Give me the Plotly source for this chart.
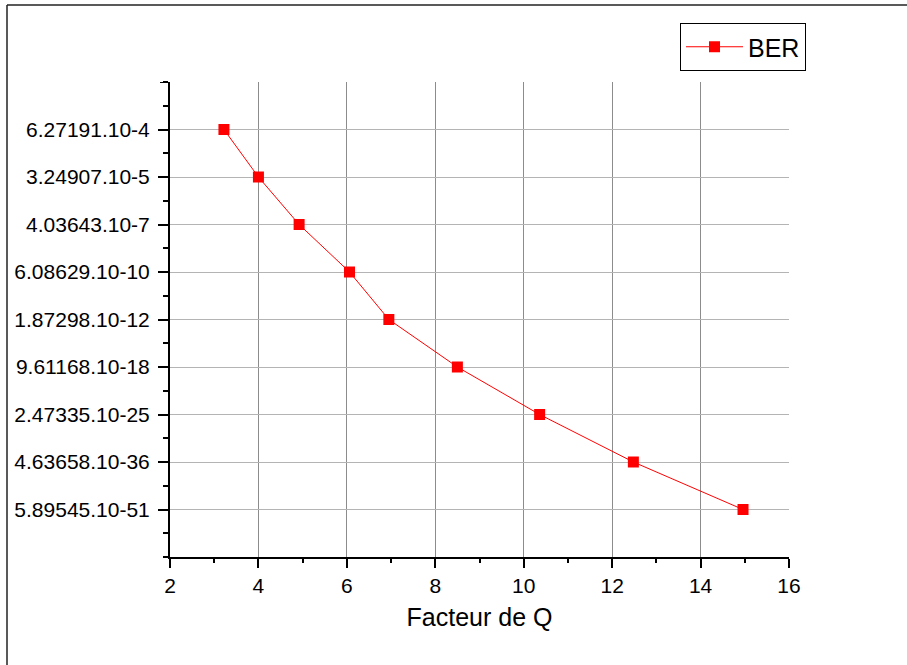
import plotly.graph_objects as go

# Data
q_factor = [3.22, 4.0, 4.92, 6.06, 6.95, 8.5, 10.36, 12.48, 14.96]
ber_labels = ["6.27191.10-4", "3.24907.10-5", "4.03643.10-7", "6.08629.10-10",
              "1.87298.10-12", "9.61168.10-18", "2.47335.10-25", "4.63658.10-36",
              "5.89545.10-51"]
ber_rank = [9, 8, 7, 6, 5, 4, 3, 2, 1]
y_tickvals = [9, 8, 7, 6, 5, 4, 3, 2, 1]
x_tickvals = [2, 4, 6, 8, 10, 12, 14, 16]

FONT = "Liberation Sans, Arial, sans-serif"

fig = go.Figure()
fig.add_trace(go.Scatter(
    x=q_factor, y=ber_rank, mode="lines+markers", name="BER",
    line=dict(color="#ff0000", width=1),
    marker=dict(symbol="square", size=11, color="#ff0000"),
))

L, R, T, B = 170, 118, 82, 108
PW, PH = 907 - L - R, 665 - T - B
fig.update_layout(
    width=907, height=665,
    margin=dict(l=L, r=R, t=T, b=B, pad=0),
    paper_bgcolor="white", plot_bgcolor="white",
    font=dict(family=FONT, color="black", size=21),
    showlegend=True,
    legend=dict(x=(806 - L) / PW, y=(557 - 23) / PH, xanchor="right", yanchor="top",
                bordercolor="black", borderwidth=1, bgcolor="white",
                font=dict(size=25, family=FONT), itemwidth=57,
                tracegroupgap=0),
    xaxis=dict(
        range=[2, 16], tickmode="array", tickvals=x_tickvals,
        showline=True, linecolor="black", linewidth=2,
        ticks="outside", ticklen=9, tickwidth=2, tickcolor="black",
        showgrid=True, gridcolor="#8c8c8c", gridwidth=1, zeroline=False,
        minor=dict(dtick=1, tick0=0, ticks="outside", ticklen=4, tickwidth=2,
                   tickcolor="black", showgrid=False),
        title=dict(text="Facteur de Q", font=dict(size=25, family=FONT), standoff=12),
        tickfont=dict(size=21, family=FONT),
    ),
    yaxis=dict(
        range=[0, 10], tickmode="array", tickvals=y_tickvals, ticktext=ber_labels,
        showline=True, linecolor="black", linewidth=2,
        ticks="outside", ticklen=10, tickwidth=2, tickcolor="black",
        showgrid=True, gridcolor="#b4b4b4", gridwidth=1, zeroline=False,
        minor=dict(dtick=0.5, tick0=0, ticks="outside", ticklen=5, tickwidth=2,
                   tickcolor="black", showgrid=False),
        tickfont=dict(size=21, family=FONT),
        ticklabelstandoff=4,
    ),
)

# top tick on y axis (longer, like a major tick)
fig.add_shape(type="line", xref="paper", yref="y", x0=-10 / PW, x1=0, y0=10, y1=10,
              line=dict(color="black", width=2))
# outer frame: top and left edges only
fx0 = (7 - L) / PW
fy_top = (557 - 5) / PH
fig.add_shape(type="line", xref="paper", yref="paper", x0=fx0, x1=(907 - L) / PW,
              y0=fy_top, y1=fy_top, line=dict(color="#222222", width=1.5))
fig.add_shape(type="line", xref="paper", yref="paper", x0=fx0, x1=fx0,
              y0=fy_top, y1=(557 - 665) / PH, line=dict(color="#222222", width=1.5))

fig.write_html("out.html")
